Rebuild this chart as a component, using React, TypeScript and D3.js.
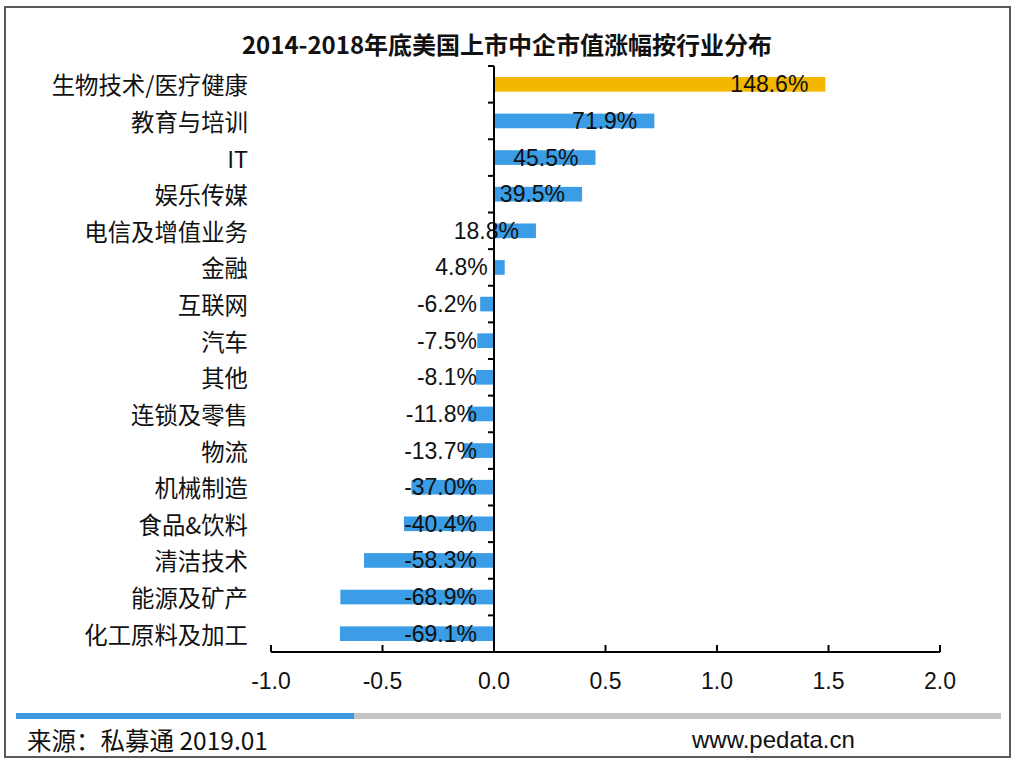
import React from "react";
import * as d3 from "d3";

const categories = [
  "生物技术/医疗健康",
  "教育与培训",
  "IT",
  "娱乐传媒",
  "电信及增值业务",
  "金融",
  "互联网",
  "汽车",
  "其他",
  "连锁及零售",
  "物流",
  "机械制造",
  "食品&饮料",
  "清洁技术",
  "能源及矿产",
  "化工原料及加工",
];
const values = [148.6, 71.9, 45.5, 39.5, 18.8, 4.8, -6.2, -7.5, -8.1, -11.8, -13.7, -37.0, -40.4, -58.3, -68.9, -69.1];
const xTicks = [-1.0, -0.5, 0.0, 0.5, 1.0, 1.5, 2.0];
const title = "2014-2018年底美国上市中企市值涨幅按行业分布";
const sourceText = "来源：私募通 2019.01";
const siteText = "www.pedata.cn";

const W = 1018;
const H = 768;
const BLUE = "#3a9de6";
const YELLOW = "#f3b700";
const CJK = "'Noto Sans CJK SC', sans-serif";
const LATIN = "'Liberation Sans', Arial, sans-serif";

export default function App() {
  const x = d3.scaleLinear().domain([-1, 2]).range([271, 940]);
  const y = d3
    .scaleBand<string>()
    .domain(categories)
    .range([66, 652])
    .paddingInner(0.6)
    .paddingOuter(0.3);
  const step = y.step();
  const yTop = 66;
  const yBottom = 652;
  const x0 = x(0);

  const yTickPositions = d3.range(categories.length).map((i) => yTop + i * step);

  return (
    <svg
      width={W}
      height={H}
      style={{ position: "absolute", left: 0, top: 0, background: "#fff" }}
    >
      <rect x={0} y={0} width={W} height={H} fill="#fff" />
      {/* frame */}
      <rect x={5} y={7} width={1005} height={750} fill="none" stroke="#5a5a5a" strokeWidth={2} />

      {/* title */}
      <text
        x={507}
        y={54}
        textAnchor="middle"
        fontFamily={CJK}
        fontWeight="bold"
        fontSize={24}
        fill="#111"
      >
        {title}
      </text>

      {/* bars */}
      {values.map((v, i) => {
        const val = v / 100;
        const yy = y(categories[i])!;
        const bx = Math.min(x(val), x0);
        const bw = Math.abs(x(val) - x0);
        return (
          <rect
            key={"b" + i}
            x={bx}
            y={yy}
            width={bw}
            height={y.bandwidth()}
            fill={i === 0 ? YELLOW : BLUE}
          />
        );
      })}

      {/* value labels */}
      {values.map((v, i) => {
        const val = v / 100;
        const cy = y(categories[i])! + y.bandwidth() / 2;
        return (
          <text
            key={"v" + i}
            x={x(Math.max(val, 0)) - 17}
            y={cy + 8}
            textAnchor="end"
            fontFamily={LATIN}
            fontSize={23}
            fill="#111"
          >
            {v.toFixed(1) + "%"}
          </text>
        );
      })}

      {/* category labels */}
      {categories.map((c, i) => {
        const cy = y(c)! + y.bandwidth() / 2;
        return (
          <text
            key={"c" + i}
            x={248}
            y={cy + 10}
            textAnchor="end"
            fontFamily={CJK}
            fontSize={23.4}
            fill="#111"
          >
            {c}
          </text>
        );
      })}

      {/* y axis */}
      <line x1={x0} x2={x0} y1={yTop} y2={yBottom} stroke="#000" strokeWidth={2} />
      {yTickPositions.map((ty, i) => (
        <line key={"yt" + i} x1={x0 - 6} x2={x0} y1={ty} y2={ty} stroke="#000" strokeWidth={2} />
      ))}

      {/* x axis */}
      <line x1={x(-1)} x2={x(2)} y1={yBottom} y2={yBottom} stroke="#000" strokeWidth={2} />
      {xTicks.map((t, i) => (
        <g key={"xt" + i}>
          <line x1={x(t)} x2={x(t)} y1={yBottom - 7} y2={yBottom} stroke="#000" strokeWidth={2} />
          <text
            x={x(t)}
            y={689}
            textAnchor="middle"
            fontFamily={LATIN}
            fontSize={23}
            fill="#111"
          >
            {t.toFixed(1)}
          </text>
        </g>
      ))}

      {/* bottom progress bar */}
      <rect x={16} y={713} width={985} height={6} fill="#c4c4c4" />
      <rect x={16} y={713} width={338} height={6} fill="#3d9ae2" />

      {/* footer */}
      <text x={27} y={750} fontFamily={CJK} fontSize={24.5} fill="#111">
        {sourceText}
      </text>
      <text x={692} y={748} fontFamily={LATIN} fontSize={24} fill="#111">
        {siteText}
      </text>
    </svg>
  );
}
